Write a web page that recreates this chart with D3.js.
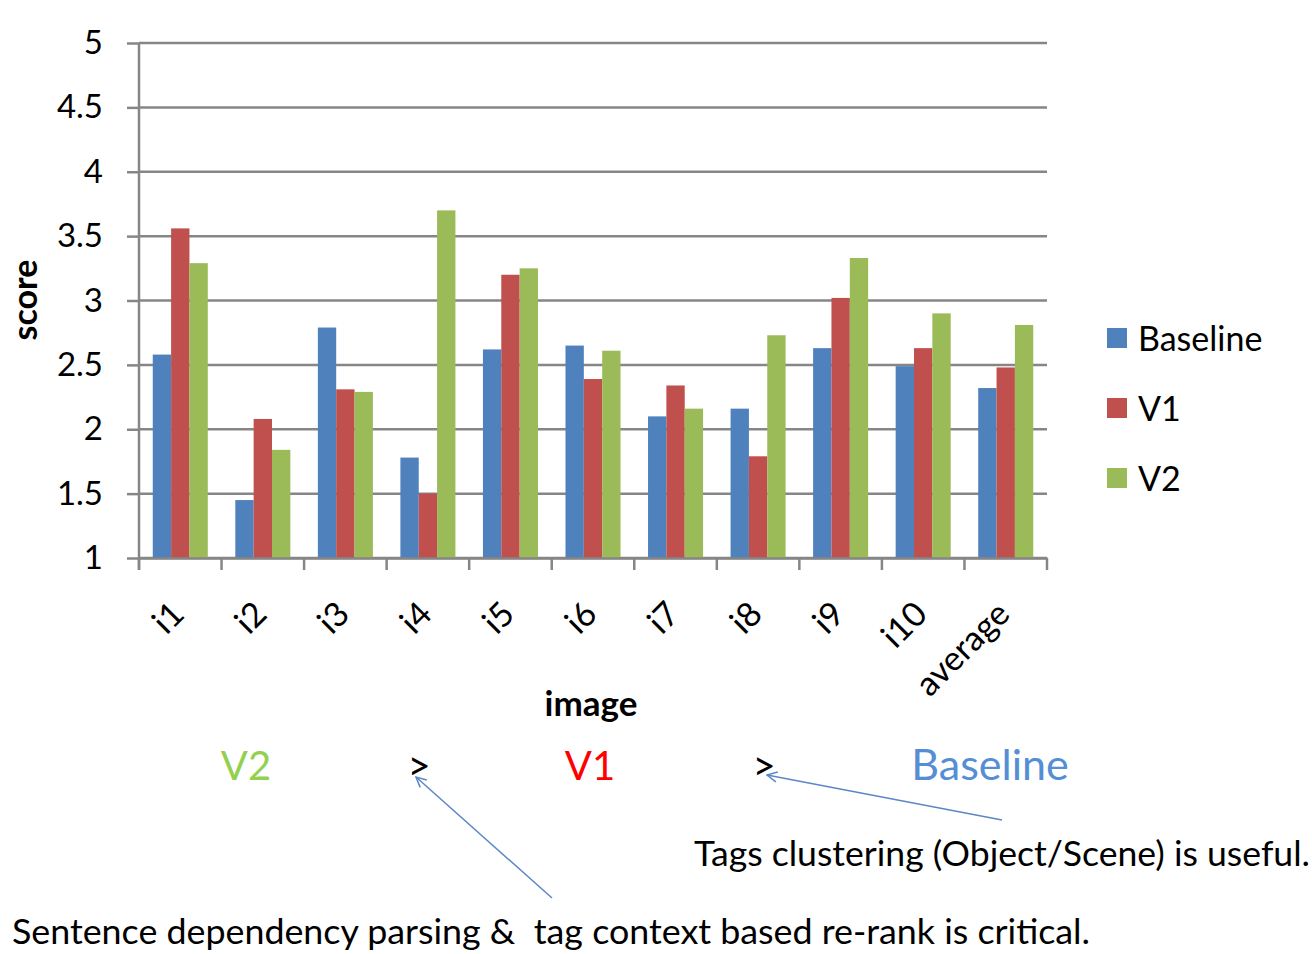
<!DOCTYPE html>
<html>
<head>
<meta charset="utf-8">
<script src="https://cdn.jsdelivr.net/npm/d3@7"></script>
<style>
  body { margin: 0; background: #fff; }
  text { font-family: Lato, "Open Sans", sans-serif; fill: #000; }
</style>
</head>
<body>
<div id="chart"></div>
<script>
// chart data
const categories = ["i1", "i2", "i3", "i4", "i5", "i6", "i7", "i8", "i9", "i10", "average"];
const seriesNames = ["Baseline", "V1", "V2"];
const baseline = [2.58, 1.45, 2.79, 1.78, 2.62, 2.65, 2.10, 2.16, 2.63, 2.49, 2.32];
const v1       = [3.56, 2.08, 2.31, 1.50, 3.20, 2.39, 2.34, 1.79, 3.02, 2.63, 2.48];
const v2       = [3.29, 1.84, 2.29, 3.70, 3.25, 2.61, 2.16, 2.73, 3.33, 2.90, 2.81];
const yTicks = [1, 1.5, 2, 2.5, 3, 3.5, 4, 4.5, 5];

const width = 1312, height = 954;
const colors = { Baseline: "#4F81BD", V1: "#C0504D", V2: "#9BBB59" };
const gridColor = "#868686";

const values = { Baseline: baseline, V1: v1, V2: v2 };
const rows = categories.map((c, i) => ({ cat: c, vals: seriesNames.map(s => ({ key: s, value: values[s][i] })) }));

const svg = d3.select("#chart").append("svg")
  .attr("width", width)
  .attr("height", height);

const x0 = d3.scaleBand().domain(categories).range([139, 1047]);
const x1 = d3.scaleBand().domain(seriesNames)
  .range([x0.bandwidth() / 6, x0.bandwidth() * 5 / 6]);
const y = d3.scaleLinear().domain([1, 5]).range([558, 43]);

// horizontal gridlines + y axis
const yAxis = svg.append("g")
  .attr("transform", "translate(139,0)")
  .call(d3.axisLeft(y).tickValues(yTicks).tickSize(12).tickPadding(24)
    .tickFormat(d => d));
yAxis.select(".domain").remove();
yAxis.selectAll(".tick line").attr("stroke", gridColor).attr("stroke-width", 2.5);
yAxis.selectAll(".tick text").style("font-size", "33px").attr("fill", "#000");

svg.append("g")
  .selectAll("line")
  .data(yTicks)
  .enter()
  .append("line")
  .attr("x1", 139).attr("x2", 1047)
  .attr("y1", d => y(d)).attr("y2", d => y(d))
  .attr("stroke", gridColor)
  .attr("stroke-width", 2.5);

// bars
const groups = svg.append("g")
  .selectAll("g")
  .data(rows)
  .enter()
  .append("g")
  .attr("transform", d => `translate(${x0(d.cat)},0)`);

groups.selectAll("rect")
  .data(d => d.vals)
  .enter()
  .append("rect")
  .attr("x", d => x1(d.key))
  .attr("width", x1.bandwidth())
  .attr("y", d => y(d.value))
  .attr("height", d => y(1) - y(d.value))
  .attr("fill", d => colors[d.key]);

// x axis
const xAxis = svg.append("g")
  .attr("transform", `translate(0,${y(1)})`)
  .call(d3.axisBottom(x0).tickSize(0).tickFormat(""));
xAxis.select(".domain").attr("stroke", gridColor).attr("stroke-width", 2.5);

svg.append("g")
  .selectAll("line")
  .data(d3.range(categories.length + 1))
  .enter()
  .append("line")
  .attr("x1", i => 139 + i * x0.step())
  .attr("x2", i => 139 + i * x0.step())
  .attr("y1", y(1)).attr("y2", y(1) + 12)
  .attr("stroke", gridColor)
  .attr("stroke-width", 2.5);

// y axis line
svg.append("line")
  .attr("x1", 139).attr("x2", 139)
  .attr("y1", 43).attr("y2", y(1) + 12)
  .attr("stroke", gridColor)
  .attr("stroke-width", 2.5);

// rotated category labels
svg.append("g")
  .selectAll("text")
  .data(categories)
  .enter()
  .append("text")
  .attr("transform", d => `translate(${x0(d) + x0.bandwidth() / 2 + 6},${y(1) + 58}) rotate(-45)`)
  .attr("text-anchor", "end")
  .style("font-size", "34px")
  .text(d => d);

// axis titles
svg.append("text")
  .attr("transform", "translate(37,300) rotate(-90)")
  .attr("text-anchor", "middle")
  .style("font-size", "34px")
  .style("font-weight", "bold")
  .text("score");

svg.append("text")
  .attr("x", 591).attr("y", 716)
  .attr("text-anchor", "middle")
  .style("font-size", "35px")
  .style("font-weight", "bold")
  .text("image");

// legend
const legend = svg.append("g")
  .selectAll("g")
  .data(seriesNames)
  .enter()
  .append("g")
  .attr("transform", (d, i) => `translate(1107,${328 + i * 70})`);

legend.append("rect")
  .attr("width", 20).attr("height", 20)
  .attr("fill", d => colors[d]);

legend.append("text")
  .attr("x", 31).attr("y", 23)
  .style("font-size", "34px")
  .text(d => d);

// ranking annotation
const ranking = [
  { t: "V2", x: 246, c: "#92D050" },
  { t: ">", x: 419, c: "#000" },
  { t: "V1", x: 590, c: "#FF0000" },
  { t: ">", x: 764, c: "#000" },
  { t: "Baseline", x: 990, c: "#558ED5" }
];
svg.append("g")
  .selectAll("text")
  .data(ranking)
  .enter()
  .append("text")
  .attr("x", d => d.x).attr("y", 780)
  .attr("text-anchor", "middle")
  .style("font-size", d => d.t === "Baseline" ? "43px" : "40px")
  .style("fill", d => d.c)
  .text(d => d.t);

// arrows
const defs = svg.append("defs");
defs.append("marker")
  .attr("id", "arr")
  .attr("viewBox", "0 0 12 12")
  .attr("refX", 11).attr("refY", 6)
  .attr("markerWidth", 12).attr("markerHeight", 12)
  .attr("markerUnits", "userSpaceOnUse")
  .attr("orient", "auto")
  .append("path")
  .attr("d", "M1,1 L11,6 L1,11")
  .attr("fill", "none")
  .attr("stroke", "#5B87C5")
  .attr("stroke-width", 1.5);

const arrows = [
  { from: [1002, 820], to: [767, 775] },
  { from: [552, 898], to: [416, 777] }
];
svg.append("g")
  .selectAll("line")
  .data(arrows)
  .enter()
  .append("line")
  .attr("x1", d => d.from[0]).attr("y1", d => d.from[1])
  .attr("x2", d => d.to[0]).attr("y2", d => d.to[1])
  .attr("stroke", "#5B87C5")
  .attr("stroke-width", 1.5)
  .attr("marker-end", "url(#arr)");

svg.append("text")
  .attr("x", 694).attr("y", 866)
  .attr("textLength", 616)
  .attr("lengthAdjust", "spacingAndGlyphs")
  .style("font-size", "34px")
  .text("Tags clustering (Object/Scene) is useful.");

svg.append("text")
  .attr("x", 12).attr("y", 944)
  .attr("textLength", 1078)
  .attr("lengthAdjust", "spacingAndGlyphs")
  .style("font-size", "34px")
  .style("white-space", "pre")
  .text("Sentence dependency parsing &  tag context based re-rank is critical.");
</script>
</body>
</html>
